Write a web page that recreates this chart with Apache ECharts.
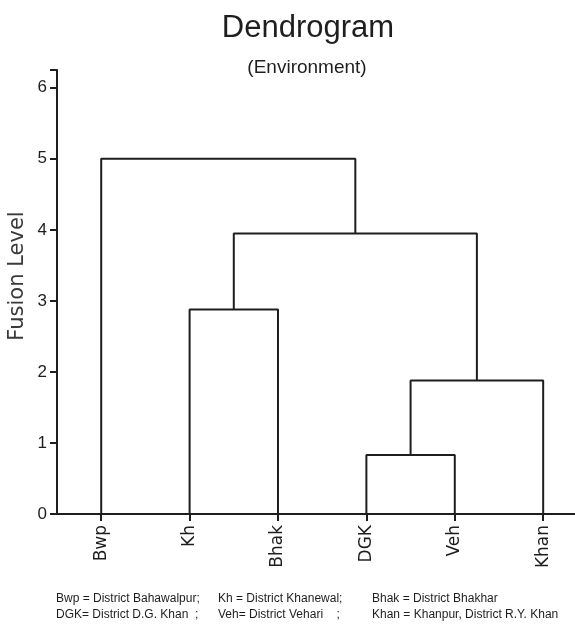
<!DOCTYPE html>
<html><head><meta charset="utf-8">
<script src="https://cdn.jsdelivr.net/npm/echarts@6/dist/echarts.min.js"></script>
<style>html,body{margin:0;padding:0;background:#fff}#c{width:575px;height:627px}</style>
</head><body><div id="c"></div>
<script>
// Leaves in display order
const leaves = ['Bwp', 'Kh', 'Bhak', 'DGK', 'Veh', 'Khan'];
// Linkage (scipy style): cluster ids 0..5 are leaves, then new ids 6,7,...
const mergeA = [3, 6, 1, 8, 0];
const mergeB = [4, 5, 2, 7, 9];
const mergeHeight = [0.83, 1.88, 2.88, 3.95, 5.0];
const yTicks = [0, 1, 2, 3, 4, 5, 6];
const yAxisName = 'Fusion Level';
const footLine1 = ['Bwp = District Bahawalpur;', 'Kh = District Khanewal;', 'Bhak = District Bhakhar'];
const footLine2 = ['DGK= District D.G. Khan  ;', 'Veh= District Vehari    ;', 'Khan = Khanpur, District R.Y. Khan'];

// compute node positions
const posX = leaves.map((_, i) => i);
const posY = leaves.map(() => 0);
const series = [];
mergeA.forEach((a, k) => {
  const b = mergeB[k], h = mergeHeight[k];
  series.push({
    type: 'line', symbol: 'none', animation: false,
    lineStyle: { color: '#1e1e1e', width: 2 },
    data: [[posX[a], posY[a]], [posX[a], h], [posX[b], h], [posX[b], posY[b]]]
  });
  posX.push((posX[a] + posX[b]) / 2);
  posY.push(h);
});

const reg = '"Liberation Sans", Arial, sans-serif';
const wide = '"DejaVu Sans", sans-serif';
const chart = echarts.init(document.getElementById('c'));
const footCols = [56, 218, 372];
const graphics = [];
footCols.forEach((x, i) => {
  graphics.push({ type: 'text', left: x, top: 593, style: { text: footLine1[i], font: '12px ' + reg, fill: '#1e1e1e' } });
  graphics.push({ type: 'text', left: x, top: 609, style: { text: footLine2[i], font: '12px ' + reg, fill: '#1e1e1e' } });
});
graphics.push({
  type: 'text', x: 18, y: 276, rotation: Math.PI / 2,
  style: { text: yAxisName, x: 0, y: 0, align: 'center', verticalAlign: 'middle',
    textAlign: 'center', textVerticalAlign: 'middle', font: '21px ' + wide, fill: '#3a3a3a' }
});
chart.setOption({
  animation: false,
  title: [
    { text: 'Dendrogram', left: 303, top: 8, textAlign: 'center',
      textStyle: { fontFamily: reg, fontSize: 31, fontWeight: 'normal', color: '#1e1e1e' } },
    { text: '(Environment)', left: 302, top: 53, textAlign: 'center',
      textStyle: { fontFamily: reg, fontSize: 19, fontWeight: 'normal', color: '#1e1e1e' } }
  ],
  grid: { left: 57, right: 0, top: 70, bottom: 113, outerBoundsMode: 'none' },
  xAxis: {
    type: 'value', min: -0.5, max: 5.36,
    splitLine: { show: false },
    axisLine: { onZero: false, lineStyle: { color: '#1e1e1e', width: 2 } },
    axisTick: { show: true, customValues: [0, 1, 2, 3, 4, 5], length: 7, lineStyle: { color: '#1e1e1e', width: 2 } },
    axisLabel: { customValues: [0, 1, 2, 3, 4, 5], rotate: 90, margin: 11,
      formatter: v => leaves[Math.round(v)],
      fontFamily: wide, fontSize: 17, color: '#1e1e1e' }
  },
  yAxis: {
    type: 'value', min: 0, max: 6.25, interval: 1,
    splitLine: { show: false },
    axisLine: { show: true, onZero: false, lineStyle: { color: '#1e1e1e', width: 2 } },
    axisTick: { show: true, length: 7, lineStyle: { color: '#1e1e1e', width: 2 } },
    axisLabel: { fontFamily: reg, fontSize: 17, color: '#1e1e1e', margin: 10,
      formatter: v => (yTicks.includes(v) ? String(v) : '') }
  },
  graphic: graphics,
  series: series
});
</script></body></html>
